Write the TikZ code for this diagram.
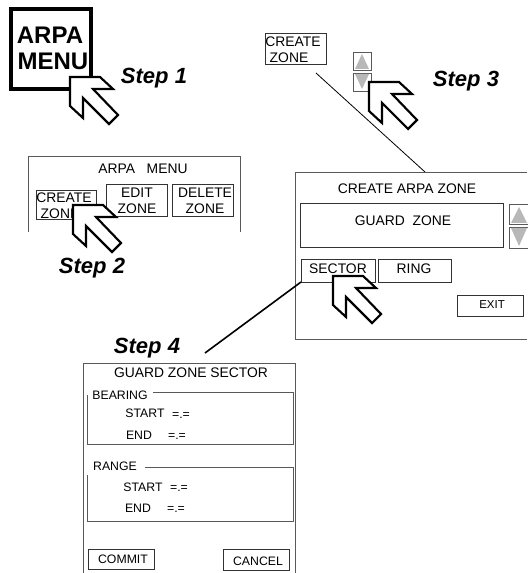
\documentclass[tikz,border=0pt]{standalone}
\usepackage{fontspec}
\setmainfont{Liberation Sans}
\usepackage{tikz}
\usetikzlibrary{positioning}
\definecolor{panelgray}{gray}{0.35}
\definecolor{arrowgray}{gray}{0.72}
\tikzset{
panel/.style={draw=panelgray,line width=0.6pt},
btn/.style={draw=black!80,line width=0.6pt,anchor=north west,inner sep=0pt},
lbl/.style={font=\fontsize{10.4}{12}\selectfont,inner sep=0pt},
small/.style={font=\fontsize{9.2}{11}\selectfont,inner sep=0pt},
steplbl/.style={font=\fontsize{16.5}{18}\selectfont\bfseries\itshape,inner sep=0pt},
iconlbl/.style={font=\fontsize{18}{20}\selectfont\bfseries,inner sep=0pt},
hand/.style={draw=black,fill=white,line width=1.6pt,line join=miter},
updown/.style={draw=panelgray,line width=0.6pt,fill=white},
tri/.style={fill=arrowgray,draw=none}}
% cursor with its tip at the given point
\newcommand{\cursor}[1]{\draw[hand,shift={(#1)}] (0,0)--(30,0)--(43,12)--(23,12)--(48,38)--(39,47)--(13,21)--(13,41)--(0,29)--cycle;}
\begin{document}
\begin{tikzpicture}[x=0.75pt,y=-0.75pt]
\useasboundingbox (0,0) rectangle (527,573);
% step 1
\node[draw=black,line width=2.4pt,minimum width=60pt,minimum height=60pt,inner sep=0pt] (icon) at (51,49) {};
\node[iconlbl] (iconA) at (50,35) {ARPA};
\node[iconlbl] (iconB) at (53,61) {MENU};
\cursor{70,77}
\node[steplbl] (s1) at (154,78) {Step 1};
% step 2
\coordinate (m1) at (28,232);\coordinate (m2) at (28,156);\coordinate (m3) at (240,156);\coordinate (m4) at (240,232);
\draw[panel] (m1)--(m2)--(m3)--(m4);
\node[lbl] (mtitle) at (143,169) {ARPA\ \ \ MENU};
\draw[btn] (36,190) rectangle (96,219);
\draw[btn] (106,184) rectangle (167,216);
\draw[btn] (172,184) rectangle (233,216);
\node[lbl] (c1) at (64,198) {CREATE};
\node[lbl] (c2) at (60,214) {ZONE};
\node[lbl] (e1) at (137,193) {EDIT};
\node[lbl] (e2) at (137,209) {ZONE};
\node[lbl] (d1) at (205,193) {DELETE};
\node[lbl] (d2) at (205,209) {ZONE};
\cursor{73,205}
\node[steplbl] (s2) at (92,268) {Step 2};
% step 3
\draw[btn] (265,33) rectangle (326,64);
\node[lbl] (c3) at (293,42) {CREATE};
\node[lbl] (c4) at (289,58) {ZONE};
\draw[updown] (353,52) rectangle (371,70);
\fill[tri] (355,69)--(362,54)--(369,69)--cycle;
\draw[updown] (353,73) rectangle (371,91);
\fill[tri] (355,74)--(362,89)--(369,74)--cycle;
\cursor{369,82}
\node[steplbl] (s3) at (466,81) {Step 3};
\coordinate (l1) at (316,73);\coordinate (l2) at (425,172);
\draw[line width=0.6pt] (l1)--(l2);
\draw[panel] (527,172)--(295,172)--(295,339)--(527,339);
\node[lbl] (ctitle) at (407,189) {CREATE ARPA ZONE};
\draw[btn] (300,203) rectangle (503,247);
\node[lbl] (guard) at (403,221) {GUARD\ \ ZONE};
\draw[updown] (509,204) rectangle (529,224);
\fill[tri] (511,223)--(519,207)--(527,223)--cycle;
\draw[updown] (509,227) rectangle (529,248);
\fill[tri] (511,228)--(519,246)--(527,228)--cycle;
\draw[btn] (301,259) rectangle (375,282);
\draw[btn] (378,259) rectangle (451,282);
\draw[btn] (457,295) rectangle (523,316);
\coordinate (sec) at (301,282);
\node[lbl] (sector) at (338,269) {SECTOR};
\node[lbl] (ring) at (414,269) {RING};
\node[font=\fontsize{8.6}{10}\selectfont,inner sep=0pt] (exit) at (492,305) {EXIT};
\cursor{333,276}
% step 4
\coordinate (l3) at (205,353);
\draw[line width=1.2pt] (sec)--(l3);
\node[steplbl] (s4) at (147,348) {Step 4};
\draw[panel] (83,573)--(83,363)--(295,363)--(295,573);
\node[lbl] (stitle) at (191,373) {GUARD ZONE SECTOR};
\draw[panel] (153,392)--(293,392)--(293,444)--(87,444)--(87,395);
\node[small] (bear) at (120,395) {BEARING};
\node[small] (st1) at (145,413) {START};
\node[small] (v1) at (181,415) {=.=};
\node[small] (en1) at (139,435) {END};
\node[small] (v2) at (177,436) {=.=};
\draw[panel] (145,467)--(293,467)--(293,521)--(87,521)--(87,475);
\node[small] (rng) at (115,466) {RANGE};
\node[small] (st2) at (143,487) {START};
\node[small] (v3) at (179,488) {=.=};
\node[small] (en2) at (138,508) {END};
\node[small] (v4) at (176,509) {=.=};
\draw[btn] (88,549) rectangle (154,569);
\draw[btn] (223,549) rectangle (289,570);
\node[small] (commit) at (123,559) {COMMIT};
\node[small] (cancel) at (258,561) {CANCEL};
\end{tikzpicture}
\end{document}
